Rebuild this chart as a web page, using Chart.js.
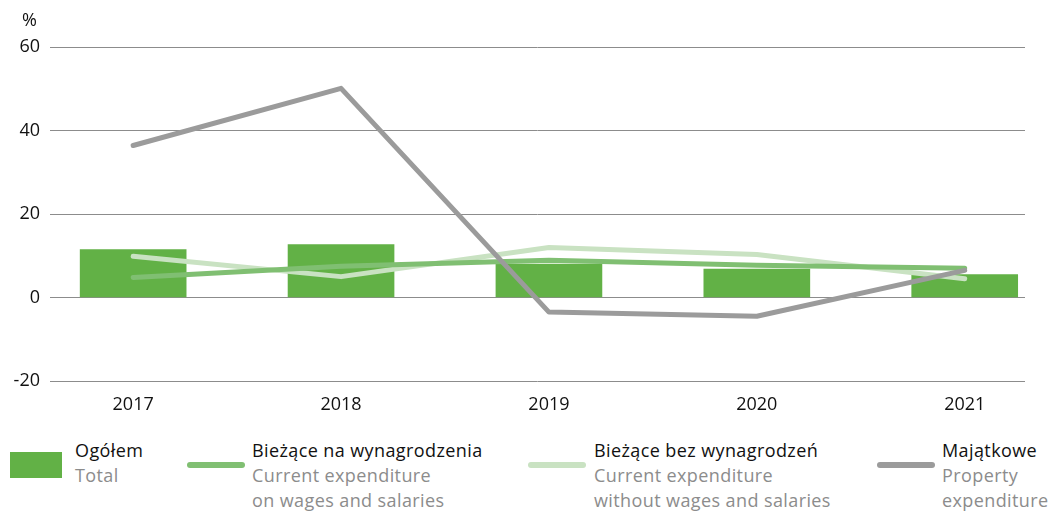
<!DOCTYPE html>
<html>
  <head>
    <meta charset="utf-8">
    <title>Wydatki - dynamika</title>
    <script src="https://cdn.jsdelivr.net/npm/chart.js@4.4.1/dist/chart.umd.min.js"></script>
    <style>
      body { margin: 0; background: #fff; font-family: "Open Sans", sans-serif; }
      .wrap { position: relative; width: 1051px; height: 511px; }
      .unit { position: absolute; left: 22px; top: 7px; font-size: 18px; color: #111; }
      .legend { position: absolute; top: 438px; left: 0; width: 1051px; height: 73px; }
      .item { position: absolute; top: 0; font-size: 18px; line-height: 25px; letter-spacing: 0.4px; white-space: nowrap; }
      .item .pl { color: #111; }
      .item .en { color: #8c8c8c; }
      .sw { position: absolute; }
    </style>
  </head>
  <body>
    <div class="wrap">
      <canvas id="canvas" width="1051" height="420"></canvas>
      <div class="unit">%</div>
      <div class="legend" id="legend"></div>
    </div>
    <script>
      var years = [2017, 2018, 2019, 2020, 2021];
      var ogolem = [11.5, 12.7, 8.0, 6.8, 5.5];
      var biezaceNaWynagrodzenia = [4.8, 7.5, 8.9, 7.7, 7.0];
      var biezaceBezWynagrodzen = [9.9, 5.0, 12.0, 10.3, 4.5];
      var majatkowe = [36.4, 50.1, -3.5, -4.5, 6.5];
      var yTicks = [-20, 0, 20, 40, 60];

      var colors = {
        total: '#62b146',
        wages: '#80bf72',
        noWages: '#c9e2c2',
        property: '#9b9b9b'
      };

      function pts(values) {
        return years.map(function(y, i) { return { x: y, y: values[i] }; });
      }

      function lineSet(label, values, color, order) {
        return {
          type: 'line',
          label: label,
          data: pts(values),
          borderColor: color,
          backgroundColor: color,
          borderWidth: 5,
          pointRadius: 0,
          tension: 0,
          borderCapStyle: 'round',
          borderJoinStyle: 'round',
          order: order
        };
      }

      var ctx = document.getElementById('canvas').getContext('2d');
      var chart = new Chart(ctx, {
        type: 'bar',
        data: {
          datasets: [
            {
              label: 'Ogółem',
              data: pts(ogolem),
              backgroundColor: colors.total,
              barThickness: 106,
              order: 3
            },
            lineSet('Bieżące na wynagrodzenia', biezaceNaWynagrodzenia, colors.wages, 1),
            lineSet('Bieżące bez wynagrodzeń', biezaceBezWynagrodzen, colors.noWages, 2),
            lineSet('Majątkowe', majatkowe, colors.property, 0)
          ]
        },
        options: {
          responsive: false,
          animation: false,
          layout: { padding: { top: 47, right: 26, left: 0, bottom: 0 } },
          plugins: {
            legend: { display: false },
            tooltip: { enabled: false }
          },
          scales: {
            x: {
              type: 'linear',
              min: 2016.6,
              max: 2021.29,
              offset: false,
              grid: { display: false, drawTicks: false },
              border: { display: false },
              afterBuildTicks: function(scale) {
                scale.ticks = years.map(function(y) { return { value: y }; });
              },
              afterFit: function(scale) { scale.height = 39; },
              ticks: {
                autoSkip: false,
                padding: 13,
                color: '#111',
                font: { family: 'Open Sans', size: 18 },
                callback: function(v) { return String(v); }
              }
            },
            y: {
              min: -20,
              max: 60,
              afterBuildTicks: function(scale) {
                scale.ticks = yTicks.map(function(v) { return { value: v }; });
              },
              afterFit: function(scale) { scale.width = 50; },
              grid: { color: '#8c8c8c', lineWidth: 1, drawTicks: false },
              border: { display: false },
              ticks: {
                padding: 10,
                color: '#111',
                font: { family: 'Open Sans', size: 18 }
              }
            }
          }
        }
      });

      // legend built as html, two lines per entry
      var legendItems = [
        { swatch: 'box', color: colors.total, sx: 10, tx: 75, pl: 'Ogółem', en: ['Total'] },
        { swatch: 'line', color: colors.wages, sx: 187, tx: 252, pl: 'Bieżące na wynagrodzenia', en: ['Current expenditure', 'on wages and salaries'] },
        { swatch: 'line', color: colors.noWages, sx: 528, tx: 594, pl: 'Bieżące bez wynagrodzeń', en: ['Current expenditure', 'without wages and salaries'] },
        { swatch: 'line', color: colors.property, sx: 877, tx: 942, pl: 'Majątkowe', en: ['Property', 'expenditure'] }
      ];
      var legend = document.getElementById('legend');
      legendItems.forEach(function(it) {
        var sw = document.createElement('div');
        sw.className = 'sw';
        sw.style.left = it.sx + 'px';
        sw.style.background = it.color;
        if (it.swatch === 'box') {
          sw.style.top = '14px'; sw.style.width = '52px'; sw.style.height = '26px';
        } else {
          sw.style.top = '24px'; sw.style.width = '58px'; sw.style.height = '6px';
          sw.style.borderRadius = '3px';
        }
        legend.appendChild(sw);
        var tx = document.createElement('div');
        tx.className = 'item';
        tx.style.left = it.tx + 'px';
        tx.innerHTML = '<div class="pl">' + it.pl + '</div>' +
          it.en.map(function(t) { return '<div class="en">' + t + '</div>'; }).join('');
        legend.appendChild(tx);
      });
    </script>
  </body>
</html>
